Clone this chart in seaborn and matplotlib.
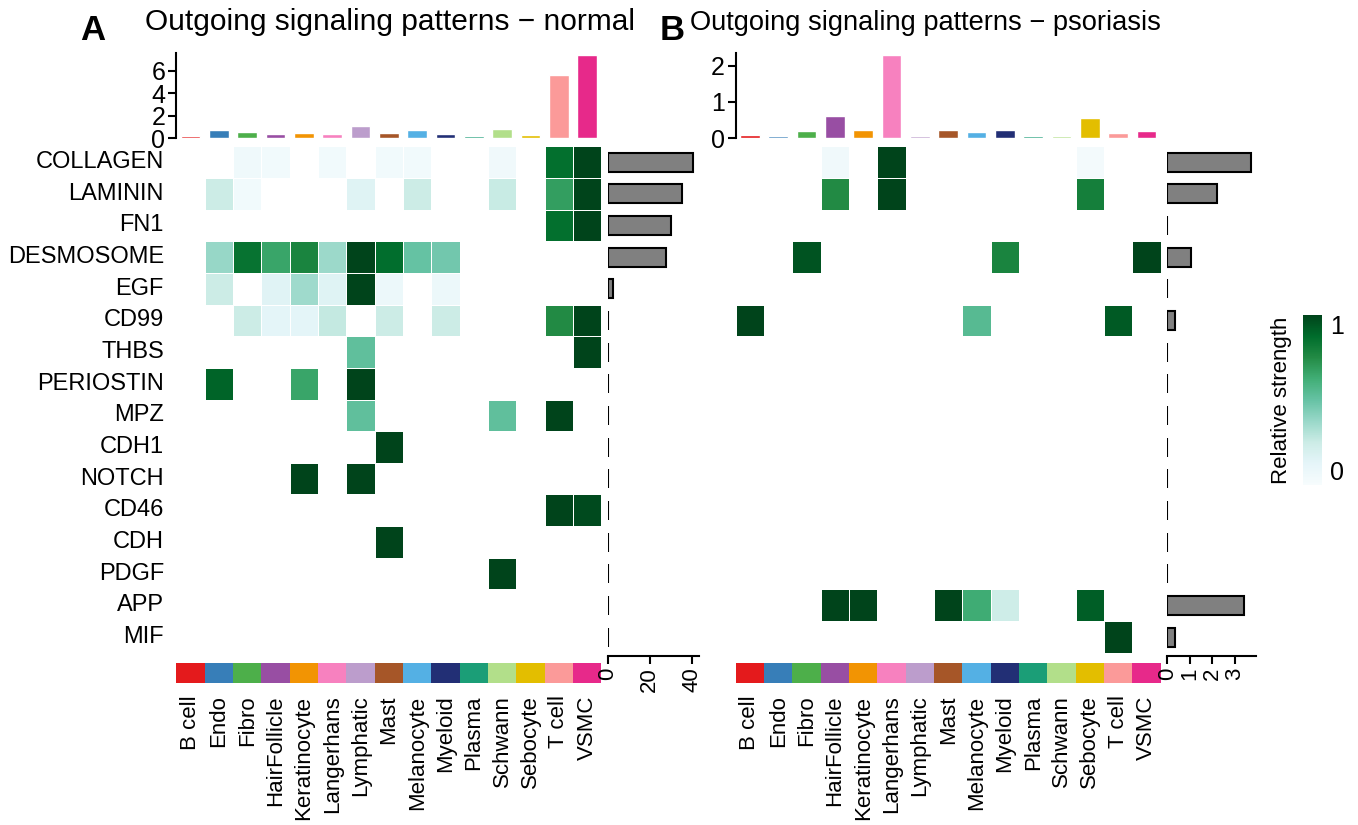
import numpy as np
import pandas as pd
import matplotlib
matplotlib.use('Agg')
import matplotlib.pyplot as plt
from matplotlib.colors import ListedColormap
import seaborn as sns

cell_types = ['B cell', 'Endo', 'Fibro', 'HairFollicle', 'Keratinocyte', 'Langerhans',
              'Lymphatic', 'Mast', 'Melanocyte', 'Myeloid', 'Plasma', 'Schwann',
              'Sebocyte', 'T cell', 'VSMC']
pathways = ['COLLAGEN', 'LAMININ', 'FN1', 'DESMOSOME', 'EGF', 'CD99', 'THBS', 'PERIOSTIN',
            'MPZ', 'CDH1', 'NOTCH', 'CD46', 'CDH', 'PDGF', 'APP', 'MIF']
cell_colors = ['#E41A1C', '#377EB8', '#4DAF4A', '#984EA3', '#F29403', '#F781BF', '#BC9DCC',
               '#A65628', '#54B0E4', '#222F75', '#1B9E77', '#B2DF8A', '#E3BE00', '#FB9A99',
               '#E7298A']

# relative strength (rows = pathways, cols = cell types)
normal_rel = [
    [0, 0, 0.06, 0.04, 0, 0.04, 0, 0.04, 0.04, 0, 0, 0.05, 0, 0.86, 1],
    [0, 0.25, 0.04, 0, 0, 0, 0.16, 0, 0.25, 0, 0, 0.26, 0, 0.68, 1],
    [0, 0, 0, 0, 0, 0, 0, 0, 0, 0, 0, 0, 0, 0.86, 1],
    [0, 0.38, 0.85, 0.66, 0.78, 0.37, 1, 0.87, 0.5, 0.47, 0, 0, 0, 0, 0],
    [0, 0.25, 0, 0.15, 0.36, 0.16, 1, 0.08, 0, 0.08, 0, 0, 0, 0, 0],
    [0, 0, 0.25, 0.13, 0.13, 0.27, 0, 0.25, 0, 0.25, 0, 0, 0, 0.75, 1],
    [0, 0, 0, 0, 0, 0, 0.52, 0, 0, 0, 0, 0, 0, 0, 1],
    [0, 0.9, 0, 0, 0.66, 0, 1, 0, 0, 0, 0, 0, 0, 0, 0],
    [0, 0, 0, 0, 0, 0, 0.52, 0, 0, 0, 0, 0.52, 0, 1, 0],
    [0, 0, 0, 0, 0, 0, 0, 1, 0, 0, 0, 0, 0, 0, 0],
    [0, 0, 0, 0, 1, 0, 1, 0, 0, 0, 0, 0, 0, 0, 0],
    [0, 0, 0, 0, 0, 0, 0, 0, 0, 0, 0, 0, 0, 1, 0.98],
    [0, 0, 0, 0, 0, 0, 0, 1, 0, 0, 0, 0, 0, 0, 0],
    [0, 0, 0, 0, 0, 0, 0, 0, 0, 0, 0, 1, 0, 0, 0],
    [0, 0, 0, 0, 0, 0, 0, 0, 0, 0, 0, 0, 0, 0, 0],
    [0, 0, 0, 0, 0, 0, 0, 0, 0, 0, 0, 0, 0, 0, 0],
]
psoriasis_rel = [
    [0, 0, 0, 0.05, 0, 1, 0, 0, 0, 0, 0, 0, 0.03, 0, 0],
    [0, 0, 0, 0.75, 0, 1, 0, 0, 0, 0, 0, 0, 0.8, 0, 0],
    [0, 0, 0, 0, 0, 0, 0, 0, 0, 0, 0, 0, 0, 0, 0],
    [0, 0, 0.95, 0, 0, 0, 0, 0, 0, 0.78, 0, 0, 0, 0, 1],
    [0, 0, 0, 0, 0, 0, 0, 0, 0, 0, 0, 0, 0, 0, 0],
    [1, 0, 0, 0, 0, 0, 0, 0, 0.55, 0, 0, 0, 0, 0.93, 0],
    [0, 0, 0, 0, 0, 0, 0, 0, 0, 0, 0, 0, 0, 0, 0],
    [0, 0, 0, 0, 0, 0, 0, 0, 0, 0, 0, 0, 0, 0, 0],
    [0, 0, 0, 0, 0, 0, 0, 0, 0, 0, 0, 0, 0, 0, 0],
    [0, 0, 0, 0, 0, 0, 0, 0, 0, 0, 0, 0, 0, 0, 0],
    [0, 0, 0, 0, 0, 0, 0, 0, 0, 0, 0, 0, 0, 0, 0],
    [0, 0, 0, 0, 0, 0, 0, 0, 0, 0, 0, 0, 0, 0, 0],
    [0, 0, 0, 0, 0, 0, 0, 0, 0, 0, 0, 0, 0, 0, 0],
    [0, 0, 0, 0, 0, 0, 0, 0, 0, 0, 0, 0, 0, 0, 0],
    [0, 0, 0, 1, 1, 0, 0, 1, 0.63, 0.24, 0, 0, 0.92, 0, 0],
    [0, 0, 0, 0, 0, 0, 0, 0, 0, 0, 0, 0, 0, 1, 0],
]

# outgoing strength per cell type (top bars)
normal_outgoing = [0.2, 0.75, 0.55, 0.38, 0.47, 0.35, 1.05, 0.44, 0.75, 0.32, 0.2, 0.8, 0.23, 5.62, 7.4]
psoriasis_outgoing = [0.08, 0.065, 0.19, 0.6, 0.23, 2.3, 0.065, 0.23, 0.17, 0.21, 0.065, 0.065, 0.56, 0.14, 0.19]

# total strength per pathway (side bars)
normal_pathway = [40.8, 35.4, 30.1, 27.7, 2.2, 0, 0, 0, 0, 0, 0, 0, 0, 0, 0, 0]
psoriasis_pathway = [3.75, 2.22, 0, 1.04, 0, 0.35, 0, 0, 0, 0, 0, 0, 0, 0, 3.41, 0.35]

W, H = 1358, 825
sns.set_theme(style='white')
plt.rcParams['font.family'] = ['Liberation Sans', 'DejaVu Sans']
plt.rcParams['text.color'] = 'black'
plt.rcParams['axes.labelcolor'] = 'black'
plt.rcParams['xtick.color'] = 'black'
plt.rcParams['ytick.color'] = 'black'

fig = plt.figure(figsize=(W / 100, H / 100), dpi=100)


def px_axes(x0, y0, x1, y1):
    return fig.add_axes([x0 / W, 1 - y1 / H, (x1 - x0) / W, (y1 - y0) / H])


cbar_ax = px_axes(1303, 315, 1322, 485)


def draw_panel(x0, rel, outgoing, totals, top_max, top_ticks, side_max, side_ticks,
               title, title_x, title_size, letter, letter_x, show_rows, cax):
    x1 = x0 + 425
    # heatmap
    ax = px_axes(x0, 146.2, x1, 652.8)
    df = pd.DataFrame(rel, index=pathways, columns=cell_types)
    sns.heatmap(df, ax=ax, cmap='BuGn', vmin=0, vmax=1, mask=(df == 0),
                linewidths=0.5, linecolor='white',
                cbar=cax is not None, cbar_ax=cax,
                xticklabels=False, yticklabels=show_rows)
    if show_rows:
        ax.set_yticklabels(pathways, rotation=0, fontsize=17)
    ax.tick_params(left=False, bottom=False, pad=3)

    # top bars
    ax_top = px_axes(x0, 53, x1, 138)
    sns.barplot(x=cell_types, y=outgoing, hue=cell_types, palette=cell_colors,
                legend=False, width=0.7, saturation=1, ax=ax_top)
    ax_top.set_xlim(-0.5, 14.5)
    ax_top.set_ylim(0, top_max)
    ax_top.set_yticks(top_ticks)
    ax_top.set_xticks([])
    sns.despine(ax=ax_top, bottom=True)
    ax_top.spines['left'].set_linewidth(1.5)
    ax_top.spines['left'].set_color('black')
    ax_top.tick_params(axis='y', left=True, length=6, width=1.5, labelsize=18, pad=2)

    # colour strip
    ax_strip = px_axes(x0, 663, x1, 683)
    sns.heatmap(np.arange(15).reshape(1, -1), ax=ax_strip, cmap=ListedColormap(cell_colors),
                cbar=False, xticklabels=cell_types, yticklabels=False)
    ax_strip.tick_params(bottom=False, pad=3)
    ax_strip.set_xticklabels(cell_types, rotation=90, fontsize=16)

    # side bars
    side_w = 90.7 if side_max > 10 else 89
    ax_side = px_axes(x0 + 431.5, 146.2, x0 + 431.5 + side_w, 656.2)
    sns.barplot(x=totals, y=pathways, orient='h', color='grey', saturation=1,
                edgecolor='black', linewidth=1.5, width=0.6, ax=ax_side)
    ax_side.set_ylim(15.6, -0.5)
    ax_side.set_xlim(0, side_max)
    ax_side.set_xticks(side_ticks)
    ax_side.set_yticks([])
    sns.despine(ax=ax_side, left=True)
    ax_side.spines['bottom'].set_linewidth(1.5)
    ax_side.spines['bottom'].set_color('black')
    ax_side.tick_params(axis='x', bottom=True, length=6, width=1.5, labelsize=16,
                        labelrotation=90, pad=2)

    fig.text(title_x / W, 1 - 30 / H, title, fontsize=title_size, va='baseline')
    fig.text(letter_x / W, 1 - 40 / H, letter, fontsize=25, weight='bold', va='baseline')
    return ax


draw_panel(176.4, normal_rel, normal_outgoing, normal_pathway, 7.6, [0, 2, 4, 6],
           43.3, [0, 20, 40], 'Outgoing signaling patterns \u2212 normal', 145, 21.5, 'A', 80,
           True, None)
axB = draw_panel(735.7, psoriasis_rel, psoriasis_outgoing, psoriasis_pathway, 2.36, [0, 1, 2],
                 3.96, [0, 1, 2, 3], 'Outgoing signaling patterns \u2212 psoriasis', 690, 19.6,
                 'B', 660, False, cbar_ax)

cbar = axB.collections[0].colorbar
cbar.set_ticks([0, 1])
cbar.outline.set_visible(False)
cbar_ax.tick_params(length=0, labelsize=18, pad=6)
labels = cbar_ax.get_yticklabels()
labels[0].set_va('bottom')
labels[1].set_va('top')
cbar_ax.yaxis.set_label_position('left')
cbar.set_label('Relative strength', fontsize=16, labelpad=8)

fig.savefig('out.png', dpi=100)
